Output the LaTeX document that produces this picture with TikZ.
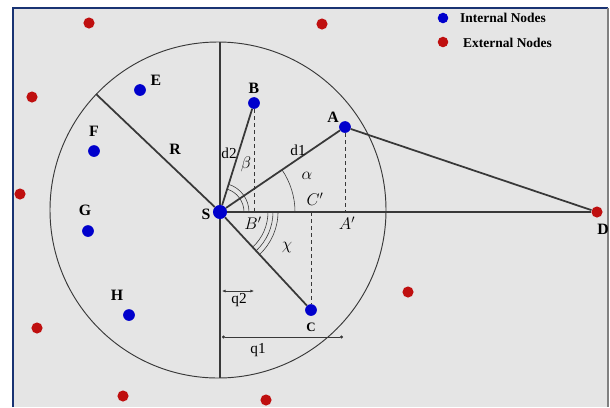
\documentclass[tikz,border=0pt]{standalone}
\usepackage{fontspec}
\setmainfont{Liberation Serif}
\usepackage{amsmath}
\usepackage{tikz}
\usetikzlibrary{arrows.meta}
\definecolor{innerblue}{rgb}{0,0,0.8}
\definecolor{outerred}{rgb}{0.75,0.06,0.06}
\definecolor{panelgray}{rgb}{0.9,0.9,0.9}
\definecolor{frameblue}{rgb}{0.1,0.2,0.45}
\definecolor{linegray}{rgb}{0.22,0.22,0.22}

\begin{document}
\begin{tikzpicture}[x=0.03cm,y=-0.03cm,
    innode/.style={circle,fill=innerblue,inner sep=0pt,minimum size=10pt},
    outnode/.style={circle,fill=outerred,inner sep=0pt,minimum size=9.5pt},
    lbl/.style={font=\fontsize{13.5}{15}\selectfont\bfseries,inner sep=0pt},
    txt/.style={font=\fontsize{13}{15}\selectfont,inner sep=0pt},
    sym/.style={font=\fontsize{14}{16}\selectfont,inner sep=0pt},
    heavy/.style={linegray,line width=1.5pt},
    thinarc/.style={linegray,line width=0.5pt}]
    \useasboundingbox (0,0) rectangle (610,407);
    % Panel
    \fill[panelgray] (13,8) rectangle (608,407);
    \draw[frameblue,line width=1.8pt] (13,407) -- (13,8) -- (608,8);
    \draw[gray,line width=1pt] (608,8) -- (608,407);
    % Define points
    \coordinate (O) at (218,210);
    \coordinate (top) at (220,42);
    \coordinate (bot) at (220,378);
    \coordinate (Rend) at (96,94);
    \coordinate (Bf) at (254,212);
    \coordinate (Af) at (345,212);
    \coordinate (Cf) at (311,212);
    \coordinate (q2l) at (222,291);
    \coordinate (q2r) at (254,291);
    \coordinate (q1l) at (222,337);
    \coordinate (q1r) at (343,337);
    % Transmission range
    \draw[linegray,line width=0.8pt] (O) circle (168);
    \draw[heavy] (top) -- (bot);
    % Source and internal nodes
    \node[innode,minimum size=12pt] (S) at (220,212) {};
    \node[innode] (A) at (345,127) {};
    \node[innode] (B) at (254,103) {};
    \node[innode] (C) at (311,310) {};
    \node[innode] (E) at (140,90) {};
    \node[innode] (F) at (94,151) {};
    \node[innode] (G) at (88,231) {};
    \node[innode] (H) at (129,315) {};
    % External nodes
    \node[outnode] (D) at (597,212) {};
    \node[outnode] (X1) at (89,23) {};
    \node[outnode] (X2) at (322,24) {};
    \node[outnode] (X3) at (32,97) {};
    \node[outnode] (X4) at (20,194) {};
    \node[outnode] (X5) at (37,328) {};
    \node[outnode] (X6) at (123,396) {};
    \node[outnode] (X7) at (266,400) {};
    \node[outnode] (X8) at (408,292) {};
    % Links
    \draw[heavy,line width=1.9pt] (S) -- (D);
    \draw[heavy] (A) -- (D);
    \draw[heavy] (S) -- (A);
    \draw[heavy] (S) -- (B);
    \draw[heavy] (S) -- (C);
    \draw[heavy] (S) -- (Rend);
    % Projections
    \draw[linegray,dashed,line width=0.6pt] (B) -- (Bf);
    \draw[linegray,dashed,line width=0.6pt] (A) -- (Af);
    \draw[linegray,dashed,line width=0.6pt] (Cf) -- (C);
    % Angles
    \draw[thinarc] (S) ++(75,0) arc (0:-34.2:75);
    \draw[thinarc] (S) ++(24,0) arc (0:-72.7:24);
    \draw[thinarc] (S) ++(29,0) arc (0:-72.7:29);
    \draw[thinarc] (S) ++(48,0) arc (0:47.1:48);
    \draw[thinarc] (S) ++(53,0) arc (0:47.1:53);
    \draw[thinarc] (S) ++(58,0) arc (0:47.1:58);
    % Distances
    \draw[thinarc,{Latex[length=3pt,width=2.5pt]}-{Latex[length=3pt,width=2.5pt]}] (q2l) -- (q2r);
    \draw[thinarc,{Circle[length=2.5pt]}-{Circle[length=2.5pt]}] (q1l) -- (q1r);
    % Labels
    \node[lbl] (labS) at (206,214) {S};
    \node[lbl] (labA) at (333,117) {A};
    \node[lbl] (labB) at (254,88) {B};
    \node[lbl,font=\fontsize{11}{13}\selectfont\bfseries] (labC) at (311,327) {C};
    \node[lbl] (labD) at (603,229) {D};
    \node[lbl] (labE) at (156,80) {E};
    \node[lbl] (labF) at (94,131) {F};
    \node[lbl] (labG) at (85,210) {G};
    \node[lbl] (labH) at (117,295) {H};
    \node[lbl] (labR) at (175,149) {R};
    \node[txt] (labd2) at (229,153) {d2};
    \node[txt] (labd1) at (298,150) {d1};
    \node[txt] (labq2) at (239,300) {q2};
    \node[txt] (labq1) at (258,350) {q1};
    \node[sym] (beta) at (246,164) {$\beta$};
    \node[sym] (alpha) at (307,176) {$\alpha$};
    \node[sym] (chi) at (287,247) {$\chi$};
    \node[sym] (Cp) at (315,199) {$C'$};
    \node[sym] (Bp) at (253,223) {$B'$};
    \node[sym] (Ap) at (347,223) {$A'$};
    % Legend
    \node[innode,minimum size=9pt] (keyin) at (443,18) {};
    \node[outnode,minimum size=9pt] (keyout) at (443,42) {};
    \node[anchor=west,inner sep=0pt,font=\fontsize{11.5}{13}\selectfont\bfseries] (keyintxt) at (460,18) {Internal Nodes};
    \node[anchor=west,inner sep=0pt,font=\fontsize{11.5}{13}\selectfont\bfseries] (keyouttxt) at (463,43) {External Nodes};
\end{tikzpicture}
\end{document}
